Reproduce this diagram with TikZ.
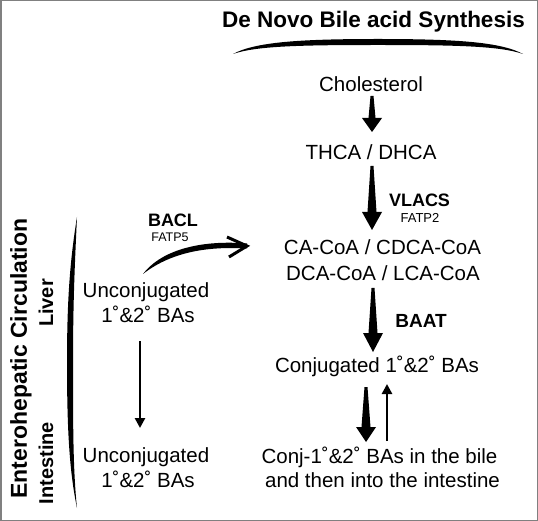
\documentclass[tikz,border=0pt]{standalone}
\usepackage{fontspec}
\setmainfont{Liberation Sans}
\usetikzlibrary{calc,arrows.meta}
\newcommand{\taperarrow}[6]{%
  \fill ([xshift=-#3pt]#1) -- ([xshift=#3pt]#1) -- ($(#2)+(#4,-#6)$) -- ($(#2)+(#5,-#6)$) -- (#2) -- ($(#2)+(-#5,-#6)$) -- ($(#2)+(-#4,-#6)$) -- cycle;}
\begin{document}
\begin{tikzpicture}[x=1pt,y=-1pt,
  tx/.style={inner sep=0pt, anchor=base, font=\fontsize{20.5}{24}\selectfont},
  bt/.style={inner sep=0pt, anchor=base, font=\bfseries\fontsize{#1}{#1}\selectfont},
  sm/.style={inner sep=0pt, anchor=base, font=\fontsize{#1}{#1}\selectfont},
  thin/.style={line width=2.5pt, -{Triangle[width=10pt,length=10pt]}}]
\useasboundingbox (0,0) rectangle (538,521);
\draw[black!50, line width=1.5pt] (0.75,0.75) rectangle (537.25,520.25);

% texts
\node[bt={22.5}] (title) at (373.5,27.5) {De Novo Bile acid Synthesis};
\node[tx] (chol) at (371,92) {Cholesterol};
\node[tx] (thca) at (371,160) {THCA / DHCA};
\node[bt={18}] (vlacs) at (419.5,207) {VLACS};
\node[sm={13}] (fatp2) at (420,223) {FATP2};
\node[tx] (coa1) at (382.5,255) {CA-CoA / CDCA-CoA};
\node[tx] (coa2) at (383,280) {DCA-CoA / LCA-CoA};
\node[bt={19}] (baat) at (421,327) {BAAT};
\node[tx] (conj) at (377,372) {Conjugated 1˚\&2˚ BAs};
\node[tx] (bile1) at (379.5,463) {Conj-1˚\&2˚ BAs in the bile};
\node[tx] (bile2) at (382.5,487) {and then into the intestine};
\node[bt={18}] (bacl) at (173,227) {BACL};
\node[sm={12.5}] (fatp5) at (170,242) {FATP5};
\node[tx] (unc1) at (146,298) {Unconjugated};
\node[tx] (unc1b) at (148,323) {1˚\&2˚ BAs};
\node[tx] (unc2) at (146,462) {Unconjugated};
\node[tx] (unc2b) at (148,487) {1˚\&2˚ BAs};
\node[bt={23}, rotate=90] (ehc) at (27,358.5) {Enterohepatic Circulation};
\node[bt={20}, rotate=90] (liver) at (53,303) {Liver};
\node[bt={20}, rotate=90] (intest) at (53,463) {Intestine};

% top arc
\fill (233,54) .. controls (255,42) and (300,39) .. (378,39) .. controls (456,39) and (501,42) .. (523,54)
  .. controls (500,46) and (456,45) .. (378,45) .. controls (300,45) and (256,46) .. (233,54) -- cycle;
% left bracket
\fill (77,217) .. controls (70,260) and (67,300) .. (67,362) .. controls (67,425) and (69,470) .. (77,508)
  .. controls (73,470) and (73,425) .. (73,362) .. controls (73,300) and (75,260) .. (77,217) -- cycle;

% coordinates for connectors
\coordinate (a1s) at (372,96);  \coordinate (a1e) at (372,132);
\coordinate (a2s) at (372,166); \coordinate (a2e) at (372,230);
\coordinate (a3s) at (373,288); \coordinate (a3e) at (373,352);
\coordinate (a4s) at (366,387); \coordinate (a4e) at (366,442);
\coordinate (u1s) at (387,441); \coordinate (u1e) at (387,384);
\coordinate (d1s) at (140,341); \coordinate (d1e) at (140,428);
\coordinate (cs) at (143,274);  \coordinate (ce) at (247,246);

\taperarrow{a1s}{a1e}{1.5}{3.5}{10}{14}
\taperarrow{a2s}{a2e}{1.5}{4.5}{10}{18}
\taperarrow{a3s}{a3e}{1.5}{4.5}{10}{19}
\taperarrow{a4s}{a4e}{1.5}{4.5}{10}{15}
\draw[thin] (u1s) -- (u1e);
\draw[thin] (d1s) -- (d1e);

% curved BACL arrow
\fill (cs) .. controls (163,248) and (205,240) .. ([yshift=2.5pt]ce) -- ([yshift=-2.5pt]ce)
  .. controls (205,246) and (170,253) .. (cs) -- cycle;
\draw[line width=3pt, line join=miter] ($(ce)+(-20,-9)$) -- (ce) -- ($(ce)+(-18,11)$);
\end{tikzpicture}
\end{document}
